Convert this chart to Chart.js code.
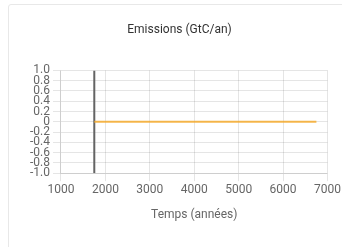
<!DOCTYPE html>
<html>
<head>
<meta charset="utf-8">
<script src="https://cdn.jsdelivr.net/npm/chart.js@4/dist/chart.umd.min.js"></script>
<style>
  html, body { margin: 0; padding: 0; background: #fff; }
  .card {
    position: absolute; left: 8px; top: 4px;
    width: 345px; height: 255px;
    border: 1px solid #e8e8e8; border-radius: 3px;
    box-sizing: border-box;
  }
  #wrap { position: absolute; left: 0; top: 0; width: 334px; height: 243px; }
</style>
</head>
<body>
<div class="card">
  <div id="wrap"><canvas id="emissionsChart"></canvas></div>
</div>
<script>
// Emissions chart: time axis in years, emissions in GtC/an
const chartTitle = "Emissions (GtC/an)";
const xTitle = "Temps (années)";

// vertical marker (dark gray), present year
const markerYears = [1750, 1750];
const markerValues = [-1, 1];

// emissions series (orange), flat at zero
const emissionYears = [1750, 6750];
const emissionValues = [0, 0];

const xMin = 1000, xMax = 7000, xStep = 1000;
const yMin = -1, yMax = 1, yStep = 0.2;

function toPoints(xs, ys) {
  return xs.map((x, i) => ({ x: x, y: ys[i] }));
}

const tickFont = { family: "Roboto", size: 12 };

const ctx = document.getElementById('emissionsChart').getContext('2d');
const emissionsChart = new Chart(ctx, {
  type: 'line',
  data: {
    datasets: [
      {
        label: "Emissions",
        data: toPoints(emissionYears, emissionValues),
        borderColor: "rgba(245, 170, 45, 0.85)",
        borderWidth: 2,
        pointRadius: 0,
        fill: false
      },
      {
        label: "Marker",
        data: toPoints(markerYears, markerValues),
        borderColor: "rgba(100, 100, 100, 1)",
        borderWidth: 2,
        pointRadius: 0,
        fill: false
      }
    ]
  },
  options: {
    responsive: true,
    maintainAspectRatio: false,
    animation: false,
    layout: { padding: { top: 8, right: 11, bottom: 22, left: 18 } },
    plugins: {
      legend: { display: false },
      tooltip: { enabled: false },
      title: {
        display: true,
        text: chartTitle,
        color: "#333",
        font: { family: "Roboto", size: 12, weight: 'normal' },
        padding: { top: 10, bottom: 33 }
      }
    },
    scales: {
      x: {
        type: 'linear',
        min: xMin, max: xMax,
        ticks: {
          stepSize: xStep, padding: 2, color: "#666", font: tickFont,
          callback: v => String(v)
        },
        grid: { color: "rgba(0,0,0,0.1)" },
        title: { display: true, text: xTitle, color: "#666", font: tickFont, padding: { top: 8, bottom: 4 } }
      },
      y: {
        type: 'linear',
        min: yMin, max: yMax,
        ticks: { stepSize: yStep, autoSkip: false, color: "#666", font: tickFont },
        grid: { color: "rgba(0,0,0,0.1)" }
      }
    }
  }
});
</script>
</body>
</html>
